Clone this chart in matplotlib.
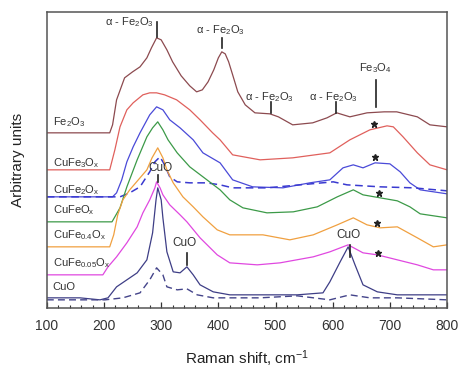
import numpy as np
import matplotlib.pyplot as plt
from matplotlib.ticker import MultipleLocator

plt.rcParams['font.family'] = ['Liberation Sans', 'DejaVu Sans']
plt.rcParams['mathtext.default'] = 'regular'

# Raman spectra (shift in cm^-1, intensity in arbitrary units incl. offset)
fe2o3_x = [100, 150, 200, 210, 215, 222, 236, 250, 263, 275, 283, 292, 300, 310, 320, 335, 350, 362,
           372, 382, 392, 400, 406, 412, 418, 425, 434, 447, 464, 490, 505, 530, 565, 590, 607, 630,
           660, 690, 712, 748, 770, 800]
fe2o3_y = [175, 175, 175, 175, 183, 208, 230, 236, 241, 250, 260, 270, 268, 258, 246, 232, 222, 216,
           218, 226, 238, 250, 256, 254, 246, 233, 216, 203, 195, 194, 191, 183, 185, 190, 195, 191,
           195, 196, 196, 191, 183, 181]

cufe3_x = [100, 158, 210, 219, 228, 240, 251, 268, 280, 292, 306, 327, 350, 368, 390, 403, 425, 473,
           530, 595, 630, 665, 695, 706, 723, 748, 770, 800]
cufe3_y = [138, 138, 138, 158, 181, 198, 205, 213, 215, 215, 213, 208, 198, 188, 175, 168, 153, 148,
           150, 155, 168, 178, 182, 181, 171, 155, 143, 138]

cufe2_x = [100, 158, 215, 222, 231, 240, 251, 263, 280, 292, 303, 315, 333, 356, 373, 403, 425, 460,
           513, 560, 595, 618, 636, 653, 674, 700, 718, 735, 753, 800]
cufe2_y = [111, 111, 111, 115, 128, 146, 161, 175, 193, 201, 198, 188, 180, 168, 155, 145, 128, 121,
           120, 125, 128, 140, 143, 140, 145, 144, 136, 125, 118, 114]

cufe2d_x = [100, 158, 228, 245, 263, 280, 289, 298, 306, 315, 328, 350, 380, 403, 425, 485, 543, 601,
            625, 683, 741, 800]
cufe2d_y = [111, 111, 111, 115, 121, 136, 146, 151, 143, 131, 126, 125, 125, 123, 120, 120, 123, 126,
            123, 121, 120, 117]

cufe1_x = [100, 158, 214, 221, 228, 240, 258, 275, 285, 294, 303, 312, 328, 350, 380, 403, 420, 443,
           485, 531, 573, 608, 636, 653, 683, 713, 735, 753, 800]
cufe1_y = [86, 86, 86, 93, 100, 121, 148, 171, 180, 186, 178, 168, 155, 141, 128, 118, 108, 100,
           95, 96, 101, 111, 118, 113, 110, 107, 101, 94, 90]

cufe04_x = [100, 158, 210, 217, 224, 233, 245, 263, 275, 284, 294, 303, 310, 321, 338, 356, 373, 398,
            420, 478, 525, 566, 608, 636, 660, 683, 713, 748, 776, 800]
cufe04_y = [61, 61, 61, 73, 93, 108, 118, 130, 138, 150, 160, 150, 138, 125, 111, 101, 91, 78,
            73, 73, 68, 73, 83, 90, 83, 80, 81, 70, 61, 63]

cufe005_x = [100, 158, 198, 207, 222, 240, 258, 268, 280, 289, 292, 298, 303, 315, 333, 345, 368, 398,
             420, 468, 508, 566, 595, 627, 653, 678, 713, 748, 776, 800]
cufe005_y = [33, 33, 33, 41, 51, 65, 81, 95, 108, 120, 126, 120, 113, 103, 93, 86, 70, 53,
             45, 43, 45, 51, 56, 63, 55, 53, 48, 43, 38, 38]

cuo_x = [100, 158, 193, 207, 222, 240, 258, 275, 285, 291, 294, 300, 303, 310, 321, 333, 345, 356,
         368, 391, 420, 538, 583, 595, 613, 627, 639, 653, 678, 713, 800]
cuo_y = [10, 10, 8, 10, 21, 28, 35, 48, 75, 108, 120, 108, 90, 56, 36, 35, 41, 33,
         23, 16, 13, 13, 15, 26, 46, 61, 43, 23, 16, 13, 13]

cuod_x = [100, 158, 202, 233, 263, 280, 292, 303, 310, 328, 345, 363, 391, 473, 538, 595, 630, 665,
          713, 800]
cuod_y = [8, 8, 8, 10, 15, 28, 40, 33, 21, 18, 19, 13, 10, 10, 12, 8, 13, 10, 10, 8]

sample_names = ['Fe$_2$O$_3$', 'CuFe$_3$O$_x$', 'CuFe$_2$O$_x$', 'CuFeO$_x$',
                'CuFe$_{0.4}$O$_x$', 'CuFe$_{0.05}$O$_x$', 'CuO']
name_y = [186, 145, 118, 98, 73, 45, 21]

star_x = [672, 674, 681, 678, 679]
star_y = [184, 151, 115, 85, 55]

fig = plt.figure(figsize=(4.59, 3.70), dpi=100)
ax = fig.add_axes([0.102, 0.168, 0.872, 0.80])

lw = 0.9
ax.plot(fe2o3_x, fe2o3_y, color='#8c4a4f', lw=lw)
ax.plot(cufe3_x, cufe3_y, color='#e0605c', lw=lw)
ax.plot(cufe2_x, cufe2_y, color='#4a4ad8', lw=lw)
ax.plot(cufe2d_x, cufe2d_y, color='#3a3ad0', lw=1.1, ls=(0, (5, 3)))
ax.plot(cufe1_x, cufe1_y, color='#3c9a48', lw=lw)
ax.plot(cufe04_x, cufe04_y, color='#f0a040', lw=lw)
ax.plot(cufe005_x, cufe005_y, color='#e048e0', lw=lw)
ax.plot(cuo_x, cuo_y, color='#3e3e86', lw=lw)
ax.plot(cuod_x, cuod_y, color='#44448a', lw=1.0, ls=(0, (5, 3)))

for name, yy in zip(sample_names, name_y):
    ax.text(110, yy, name, fontsize=8, color='#333333', va='center', ha='left')

ax.plot(star_x, star_y, ls='none', marker='*', color='#222222', ms=5)

# peak markers
ann = dict(fontsize=8, color='#333333', va='center')
ax.text(287, 286, r'$\alpha$ - Fe$_2$O$_3$', ha='right', **ann)
ax.plot([292, 292], [271, 286], color='#222222', lw=1.2)
ax.text(403, 278, r'$\alpha$ - Fe$_2$O$_3$', ha='center', **ann)
ax.plot([406, 406], [260, 270], color='#222222', lw=1.2)
ax.text(490, 211, r'$\alpha$ - Fe$_2$O$_3$', ha='center', **ann)
ax.plot([492, 492], [195, 206], color='#222222', lw=1.2)
ax.text(602, 211, r'$\alpha$ - Fe$_2$O$_3$', ha='center', **ann)
ax.plot([606, 606], [195, 206], color='#222222', lw=1.2)
ax.text(674, 240, 'Fe$_3$O$_4$', ha='center', **ann)
ax.plot([676, 676], [201, 228], color='#222222', lw=1.2)
ax.text(298, 140, 'CuO', ha='center', fontsize=8.5, color='#333333', va='center')
ax.plot([294, 294], [126, 133], color='#222222', lw=1.2)
ax.text(341, 65, 'CuO', ha='center', fontsize=8.5, color='#333333', va='center')
ax.plot([345, 345], [43, 55], color='#222222', lw=1.2)
ax.text(628, 73, 'CuO', ha='center', fontsize=8.5, color='#333333', va='center')
ax.plot([630, 630], [51, 63], color='#222222', lw=1.2)

ax.set_xlim(100, 800)
ax.set_ylim(0, 296)
ax.set_yticks([])
ax.xaxis.set_major_locator(MultipleLocator(100))
ax.xaxis.set_minor_locator(MultipleLocator(20))
ax.tick_params(axis='x', which='major', direction='in', length=4, width=0.9,
               labelsize=10, pad=8, colors='#333333')
ax.tick_params(axis='x', which='minor', direction='in', length=2.5, width=0.8, colors='#333333')
for sp in ax.spines.values():
    sp.set_color('#555555')
    sp.set_linewidth(1.1)

ax.set_xlabel('Raman shift, cm$^{-1}$', fontsize=11, color='#222222', labelpad=11)
ax.set_ylabel('Arbitrary units', fontsize=11, color='#222222', labelpad=16)

fig.savefig('out.png', dpi=100)
